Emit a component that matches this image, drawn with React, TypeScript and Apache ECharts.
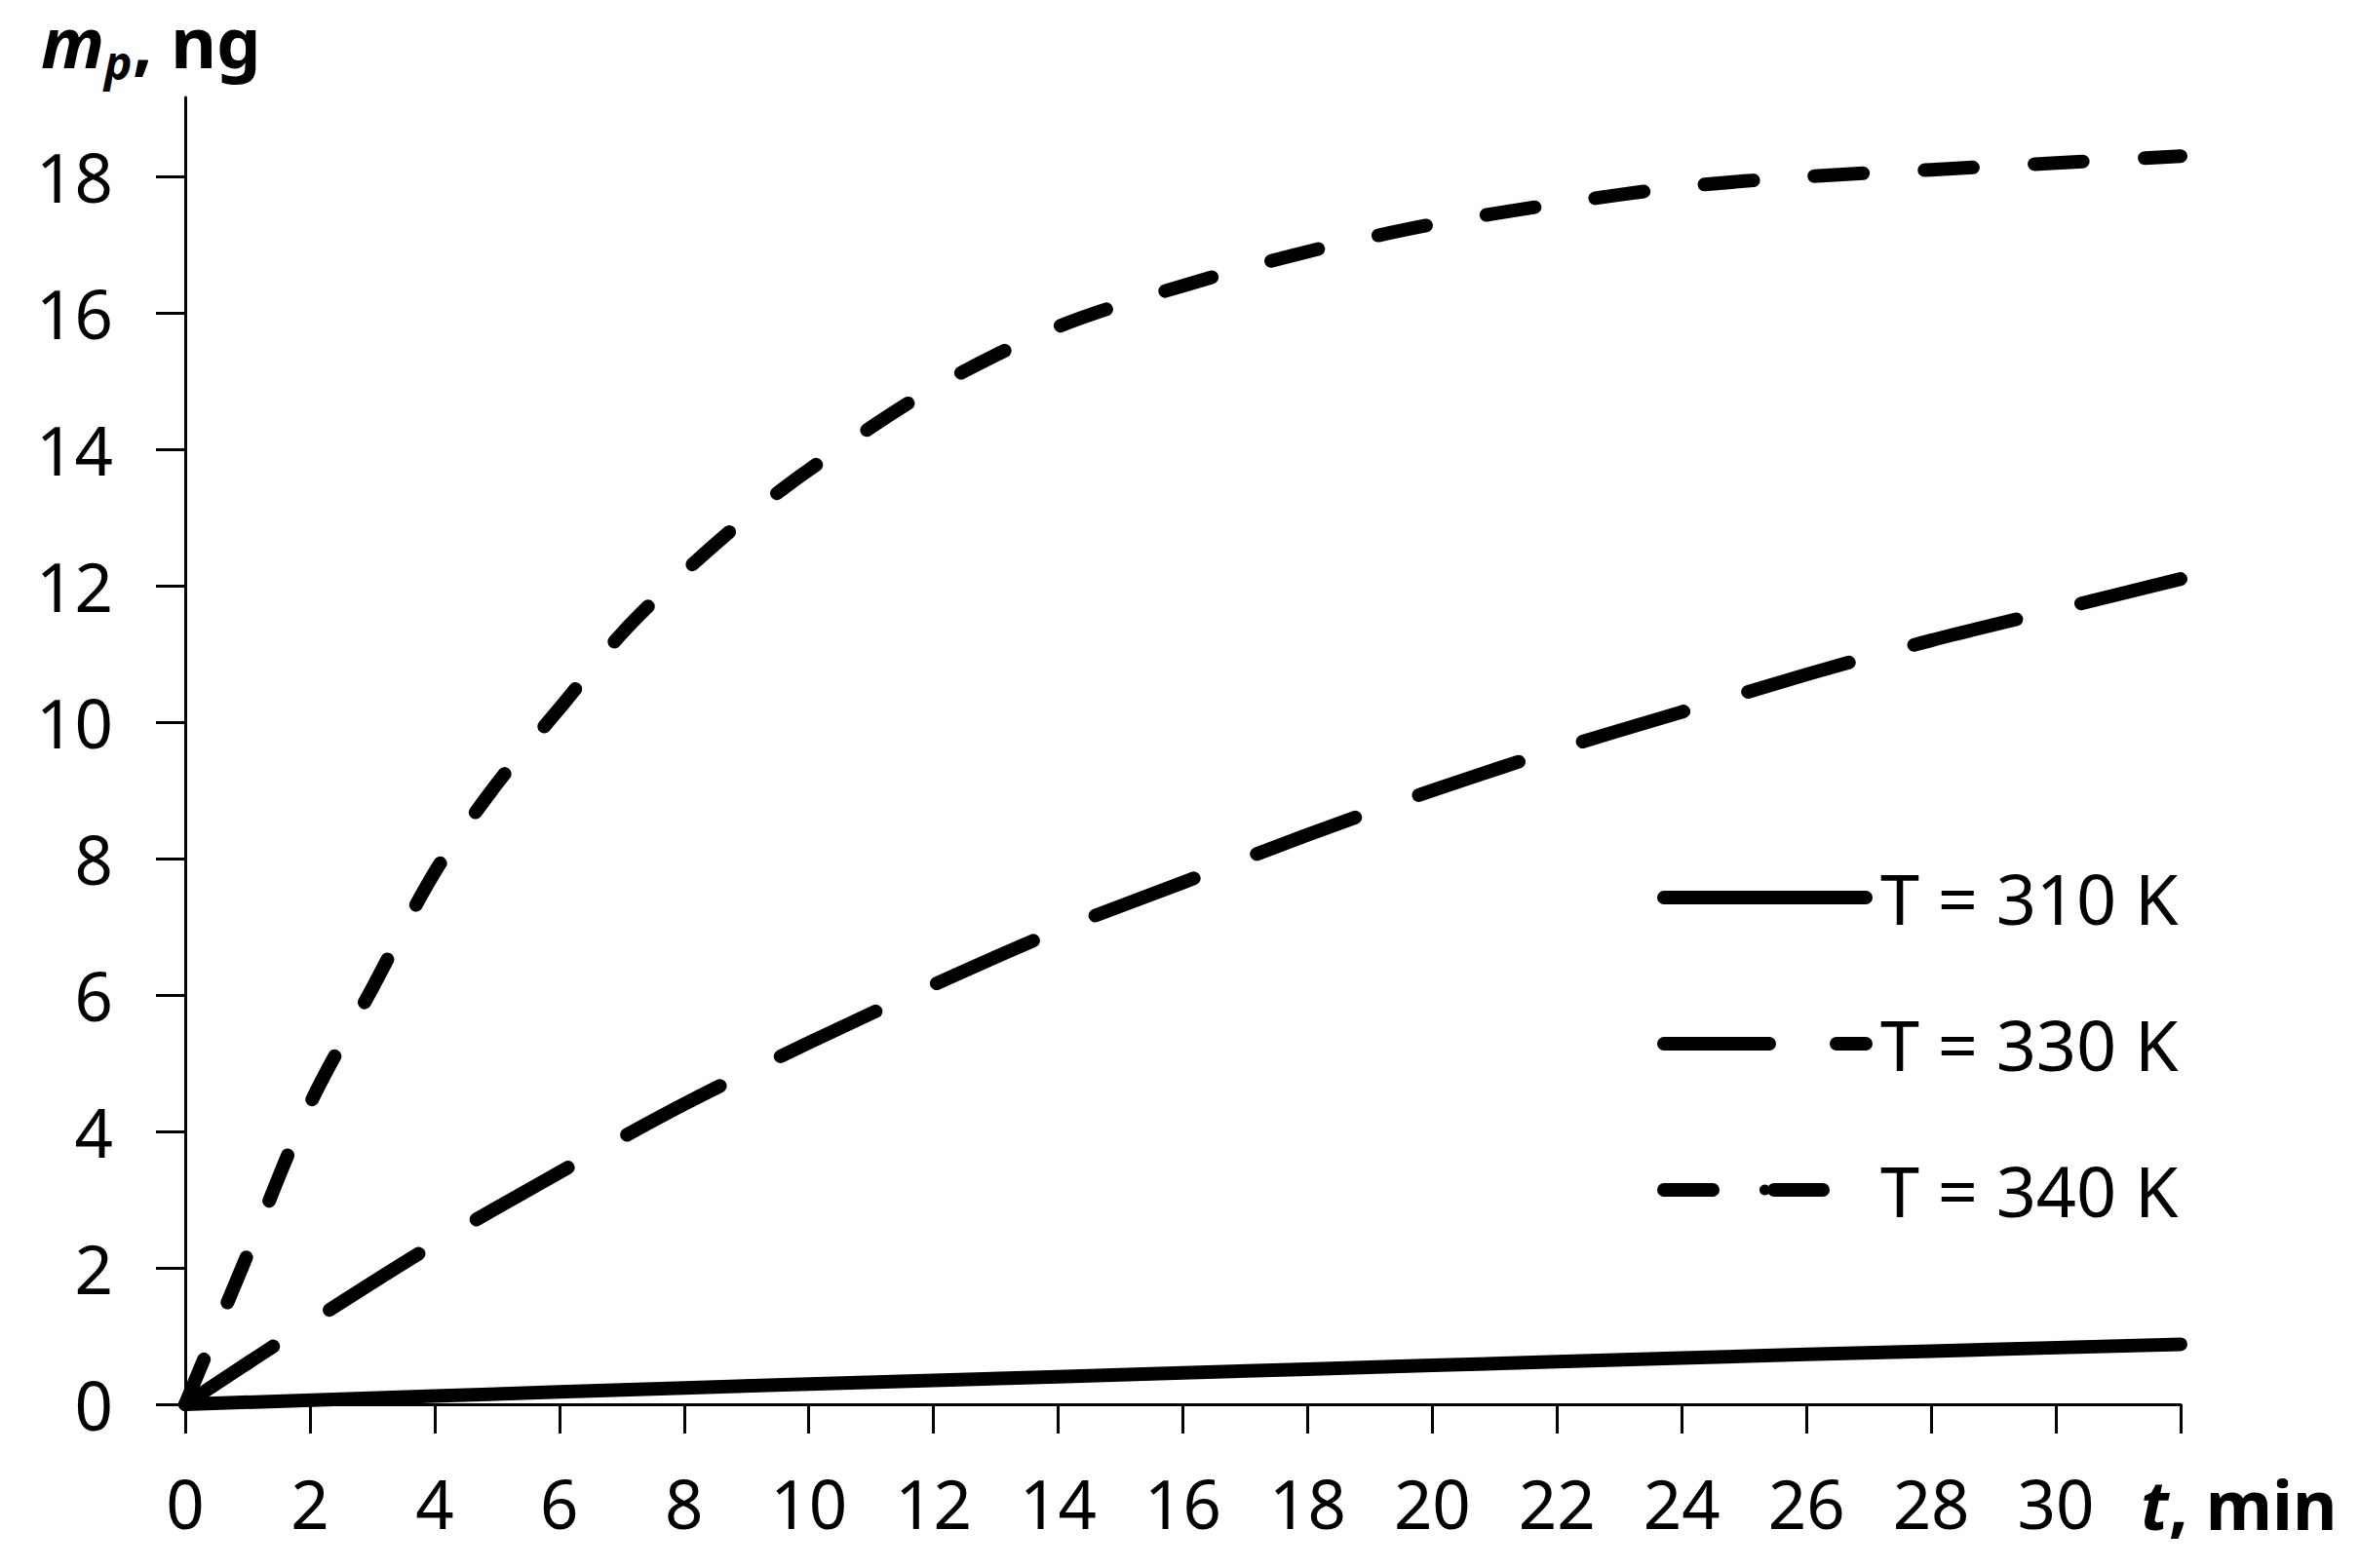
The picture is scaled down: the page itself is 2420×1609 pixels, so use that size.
import React, { useEffect, useRef } from "react";
import * as echarts from "echarts";

const xTicks = [0, 2, 4, 6, 8, 10, 12, 14, 16, 18, 20, 22, 24, 26, 28, 30, 32];
const yTicks = [0, 2, 4, 6, 8, 10, 12, 14, 16, 18];

const seriesNames = ["T = 310 K", "T = 330 K", "T = 340 K"];

const t310 = [0, 4, 8, 12, 16, 20, 24, 28, 32];
const m310 = [0, 0.12, 0.24, 0.35, 0.46, 0.57, 0.68, 0.78, 0.88];

const t330 = [0, 2, 4, 6, 8, 10, 12, 14, 16, 18, 20, 22, 24, 26, 28, 30, 32];
const m330 = [0, 1.2, 2.35, 3.4, 4.4, 5.3, 6.15, 6.95, 7.65, 8.35, 9.0, 9.6, 10.15, 10.7, 11.2, 11.65, 12.1];

const t340 = [0, 1, 2, 3, 4, 5, 6, 7, 8, 9, 10, 12, 14, 16, 18, 20, 22, 24, 26, 28, 30, 32];
const m340 = [0, 2.2, 4.4, 6.1, 7.8, 9.1, 10.2, 11.3, 12.2, 13.0, 13.7, 14.9, 15.8, 16.4, 16.9, 17.3, 17.6, 17.85, 18.0, 18.1, 18.2, 18.3];

const pairs = (xs: number[], ys: number[]) => xs.map((x, i) => [x, ys[i]]);

const FONT = "Noto Sans";

export default function App() {
  const ref = useRef<HTMLDivElement>(null);
  useEffect(() => {
    if (!ref.current) return;
    const chart = echarts.init(ref.current, null, { renderer: "svg" });
    const lw = 14;
    const base = {
      type: "line" as const,
      symbol: "none",
      showSymbol: false,
      smooth: 0.3,
      silent: true,
    };
    chart.setOption({
      animation: false,
      backgroundColor: "#ffffff",
      grid: { left: 190, right: 183, top: 100, bottom: 168, containLabel: false },
      xAxis: {
        type: "value",
        min: 0,
        max: 32,
        interval: 2,
        axisLine: { show: true, lineStyle: { color: "#000", width: 3 } },
        axisTick: { show: true, length: 30, customValues: xTicks, lineStyle: { color: "#000", width: 3 } },
        splitLine: { show: false },
        axisLabel: {
          color: "#000",
          fontFamily: FONT,
          fontSize: 69,
          margin: 66,
          formatter: (v: number) => (v === 32 ? "" : String(v)),
        },
      },
      yAxis: {
        type: "value",
        min: 0,
        max: 19.16,
        interval: 2,
        axisLine: { show: true, lineStyle: { color: "#000", width: 3 } },
        axisTick: { show: true, length: 30, customValues: yTicks, lineStyle: { color: "#000", width: 3 } },
        splitLine: { show: false },
        axisLabel: {
          color: "#000",
          fontFamily: FONT,
          fontSize: 69,
          margin: 74,
          customValues: yTicks,
        },
      },
      legend: {
        data: seriesNames,
        orient: "vertical",
        left: 1695,
        top: 876,
        itemWidth: 207,
        itemHeight: 14,
        itemGap: 70,
        selectedMode: false,
        textStyle: { color: "#000", fontFamily: FONT, fontSize: 72, lineHeight: 80, padding: [0, 0, 0, 10] },
        lineStyle: { width: lw, cap: "round" },
      },
      graphic: [
        {
          type: "text",
          left: 42,
          top: 5,
          style: { text: "m", fontFamily: FONT, fontSize: 72, lineHeight: 74, fontWeight: "bold", fontStyle: "italic", fill: "#000" },
        },
        {
          type: "text",
          left: 107,
          top: 38,
          style: { text: "p", fontFamily: FONT, fontSize: 48, lineHeight: 50, fontWeight: "bold", fontStyle: "italic", fill: "#000" },
        },
        {
          type: "text",
          left: 136,
          top: 5,
          style: { text: ", ng", fontFamily: FONT, fontSize: 72, lineHeight: 74, fontWeight: "bold", fill: "#000" },
        },
        {
          type: "text",
          left: 2196,
          top: 1508,
          style: {
            text: "{a|t}{b|, min}",
            rich: {
              a: { fontFamily: FONT, fontSize: 70, fontWeight: "bold", fontStyle: "italic", fill: "#000" },
              b: { fontFamily: FONT, fontSize: 70, fontWeight: "bold", fill: "#000" },
            },
          },
        },
      ],
      series: [
        {
          ...base,
          name: seriesNames[0],
          data: pairs(t310, m310),
          lineStyle: { color: "#000", width: lw, type: "solid", cap: "round", join: "round" },
          itemStyle: { color: "#000" },
        },
        {
          ...base,
          name: seriesNames[1],
          data: pairs(t330, m330),
          lineStyle: { color: "#000", width: lw, type: [108, 69], cap: "round", join: "round" },
          itemStyle: { color: "#000" },
        },
        {
          ...base,
          name: seriesNames[2],
          data: pairs(t340, m340),
          lineStyle: { color: "#000", width: lw, type: [50, 63], cap: "round", join: "round" },
          itemStyle: { color: "#000" },
        },
      ],
    });
    return () => chart.dispose();
  }, []);
  return (
    <div
      ref={ref}
      style={{ position: "fixed", left: 0, top: 0, width: 2420, height: 1609, background: "#fff" }}
    />
  );
}
